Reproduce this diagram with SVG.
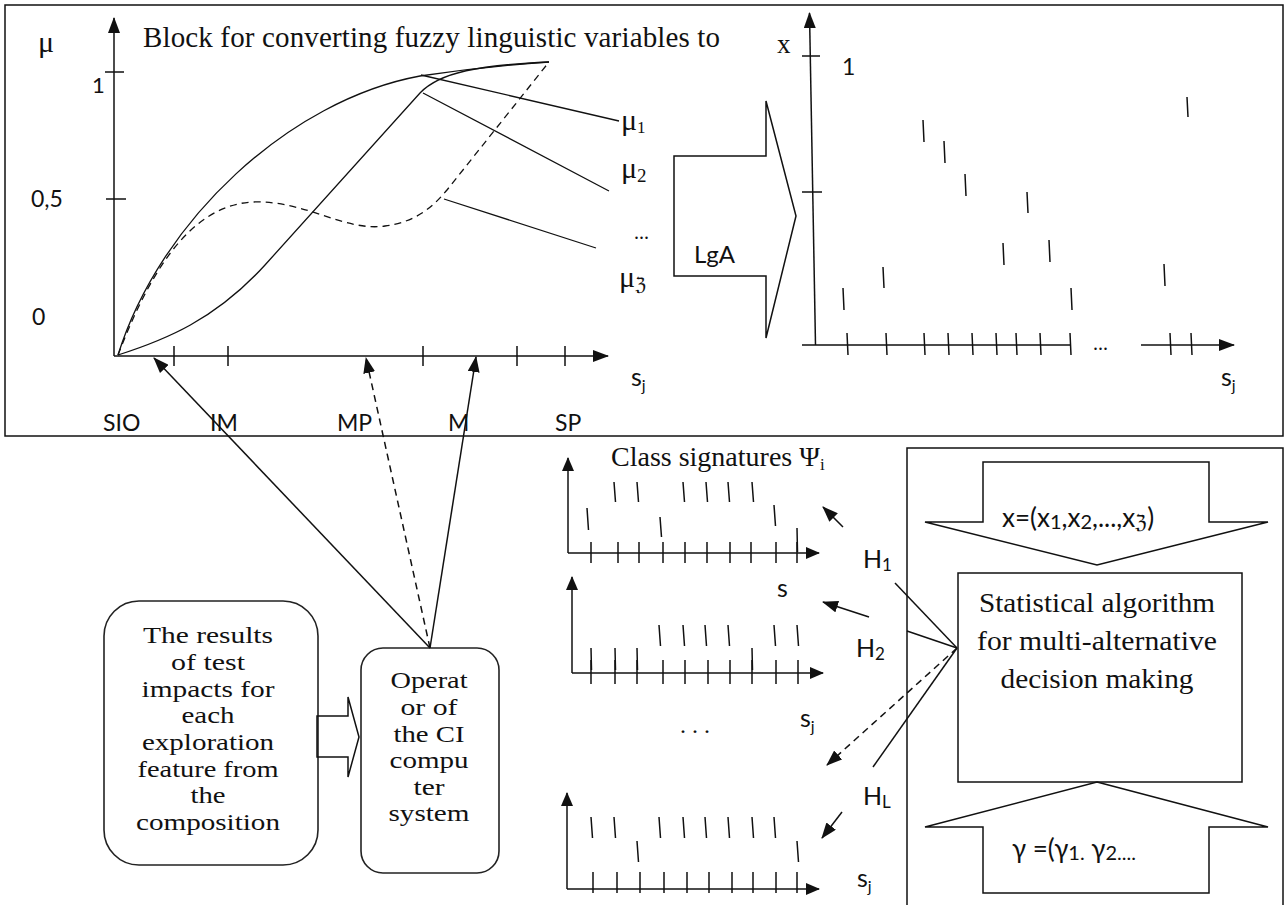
<svg xmlns="http://www.w3.org/2000/svg" width="1287" height="905" viewBox="0 0 1287 905">
<style>
.ln{stroke:#111;stroke-width:1.5;fill:none}
.thin{stroke:#111;stroke-width:1.3;fill:none}
.dash{stroke-dasharray:7 5}
.box{stroke:#222;stroke-width:1.6;fill:#fff}
.serif{font-family:"Liberation Serif","DejaVu Serif",serif;fill:#111}
.sans{font-family:Lato,"Liberation Sans",sans-serif;fill:#111}
.mid{text-anchor:middle}
</style>
<defs>
<marker id="ah" viewBox="0 0 16 12" refX="15" refY="6" markerWidth="16" markerHeight="12" markerUnits="userSpaceOnUse" orient="auto"><path d="M0,0 L16,6 L0,12 z" fill="#111"/></marker>
<marker id="ahs" viewBox="0 0 14 12" refX="13" refY="6" markerWidth="14" markerHeight="12" markerUnits="userSpaceOnUse" orient="auto"><path d="M0,0 L14,6 L0,12 z" fill="#111"/></marker>
</defs>
<rect width="1287" height="905" fill="#fff"/>

<g id="top-block">
<rect x="5" y="5" width="1278" height="431" class="ln" stroke-width="1.8"/>
<text x="143" y="47" class="serif" font-size="29" textLength="577" lengthAdjust="spacing">Block for converting fuzzy linguistic variables to</text>
</g>

<g id="membership-chart">
<line x1="114" y1="356" x2="114" y2="18" class="ln" marker-end="url(#ah)"/>
<line x1="114" y1="356" x2="608" y2="356" class="ln" marker-end="url(#ah)"/>
<path class="ln" d="M105,72H124M106,199H126M174,346V366M228,346V366M423,346V366M517,346V366M565,346V366"/>
<path class="thin" d="M118,355 C160,220 290,100 420,76 C480,67 520,64 549,62"/>
<path class="thin" d="M118,355 C165,340 215,320 265,265 L420,93 C440,72 480,65 549,62"/>
<path class="thin dash" d="M118,355 C145,285 185,205 253,202 C305,200 345,232 385,226 C415,222 432,208 447,190 L549,62"/>
<path class="thin" d="M421,75L619,121M423,93L609,191M444,199L596,248"/>
<text x="38" y="52" class="serif" font-size="30">μ</text>
<text x="92" y="93" class="sans" font-size="22">1</text>
<text x="31" y="207" class="sans" font-size="23">0,5</text>
<text x="32" y="325" class="sans" font-size="23">0</text>
<text x="621" y="130" class="serif" font-size="30">μ<tspan font-size="17" dy="3">1</tspan></text>
<text x="621" y="178" class="serif" font-size="30">μ<tspan font-size="19" dy="4">2</tspan></text>
<text x="634" y="239" class="serif" font-size="20">...</text>
<text x="619" y="287" class="serif" font-size="30">μ<tspan font-size="19" dy="4">ℨ</tspan></text>
<text x="631" y="386" class="sans" font-size="25">s<tspan font-size="16" dy="5">j</tspan></text>
<text x="103" y="431" class="sans" font-size="23">SIO</text>
<text x="210" y="431" class="sans" font-size="23">IM</text>
<text x="337" y="431" class="sans" font-size="23">MP</text>
<text x="448" y="431" class="sans" font-size="23">M</text>
<text x="555" y="431" class="sans" font-size="23">SP</text>
</g>

<g id="lga-arrow">
<polygon points="674,156 766,156 766,101 796,216 766,338 766,276 674,276" class="ln" fill="#fff"/>
<text x="694" y="263" class="sans" font-size="24">LgA</text>
</g>

<g id="value-chart">
<line x1="815.5" y1="345" x2="809.5" y2="13" class="ln" marker-end="url(#ah)"/>
<path class="ln" d="M802,56H820M802,192H822M802,345H1071"/>
<line x1="1141" y1="345" x2="1234" y2="345" class="ln" marker-end="url(#ah)"/>
<path class="ln" d="M847,333l1,22M886,333l1,22M924,333l1,22M948,333l1,22M972,333l1,22M996,333l1,22M1016,333l1,22M1040,333l1,22M1070,333l1,22M1170,333l1,22M1191,333l1,22"/>
<path class="ln" d="M843,288l1,22M883,267l1,21M923,120l1,22M944,141l1,22M965,174l1,22M1003,243l1,22M1027,192l1,21M1049,240l1,22M1071,288l1,22M1164,264l1,22M1187,97l1,20"/>
<text x="777" y="53" class="serif" font-size="27">x</text>
<text x="842" y="75" class="sans" font-size="23">1</text>
<text x="1093" y="350" class="serif" font-size="20">...</text>
<text x="1221" y="386" class="sans" font-size="25">s<tspan font-size="16" dy="5">j</tspan></text>
</g>

<g id="results-box">
<rect x="104" y="601" width="214" height="264" rx="35" class="box"/>
<g class="serif mid" font-size="24">
<text x="208" y="643" textLength="130" lengthAdjust="spacingAndGlyphs">The results</text>
<text x="208" y="670" textLength="74" lengthAdjust="spacingAndGlyphs">of test</text>
<text x="208" y="697" textLength="133" lengthAdjust="spacingAndGlyphs">impacts for</text>
<text x="208" y="723" textLength="53" lengthAdjust="spacingAndGlyphs">each</text>
<text x="208" y="750" textLength="132" lengthAdjust="spacingAndGlyphs">exploration</text>
<text x="208" y="777" textLength="141" lengthAdjust="spacingAndGlyphs">feature from</text>
<text x="208" y="803" textLength="35" lengthAdjust="spacingAndGlyphs">the</text>
<text x="208" y="830" textLength="144" lengthAdjust="spacingAndGlyphs">composition</text>
</g>
</g>

<g id="operator-box">
<rect x="361" y="648" width="138" height="225" rx="22" class="box"/>
<g class="serif mid" font-size="24">
<text x="429" y="688" textLength="77" lengthAdjust="spacingAndGlyphs">Operat</text>
<text x="429" y="715" textLength="57" lengthAdjust="spacingAndGlyphs">or of</text>
<text x="429" y="742" textLength="71" lengthAdjust="spacingAndGlyphs">the CI</text>
<text x="429" y="768" textLength="79" lengthAdjust="spacingAndGlyphs">compu</text>
<text x="429" y="795" textLength="31" lengthAdjust="spacingAndGlyphs">ter</text>
<text x="429" y="821" textLength="81" lengthAdjust="spacingAndGlyphs">system</text>
</g>
</g>

<g id="class-signatures">
<text x="611" y="466" class="serif" font-size="28">Class signatures Ψ<tspan font-size="17" dy="4">i</tspan></text>
<line x1="568" y1="553" x2="568" y2="458" class="ln" marker-end="url(#ahs)"/>
<line x1="568" y1="553" x2="819" y2="553" class="ln" marker-end="url(#ahs)"/>
<path class="ln" d="M591,542v21M618,542v21M639,542v21M663,542v21M685,542v21M707,542v21M730,542v21M751,542v21M776,542v21M797,542v21"/>
<path class="ln" d="M614,482l1.5,20M637,482l1.5,20M683,482l1.5,20M706,482l1.5,20M728,482l1.5,20M752,482l1.5,20M587,508l1.5,22M660,517l1.5,20M774,505l1.5,21M797,528l0.5,24"/>
<line x1="572" y1="673" x2="572" y2="577" class="ln" marker-end="url(#ahs)"/>
<line x1="572" y1="673" x2="823" y2="673" class="ln" marker-end="url(#ahs)"/>
<path class="ln" d="M591,660v24M615,660v24M637,660v24M663,660v24M685,660v24M708,660v24M730,660v24M752,660v24M776,660v24M798,660v24"/>
<path class="ln" d="M659,625l1.5,21M683,625l1.5,21M705,625l1.5,21M728,625l1.5,21M774,625l1.5,21M797,625l1.5,21M591,648l0.5,22M615,648l0.5,22M637,648l0.5,22M752,648l0.5,22"/>
<line x1="567" y1="889" x2="567" y2="793" class="ln" marker-end="url(#ahs)"/>
<line x1="567" y1="889" x2="819" y2="889" class="ln" marker-end="url(#ahs)"/>
<path class="ln" d="M593,872v21M617,872v21M640,872v21M664,872v21M687,872v21M709,872v21M732,872v21M753,872v21M776,872v21M797,872v21"/>
<path class="ln" d="M591,817l1.5,21M614,817l1.5,21M659,817l1.5,21M683,817l1.5,21M705,817l1.5,21M728,817l1.5,21M752,817l1.5,21M774,817l1.5,21M637,841l1.5,21M797,841l1.5,21"/>
<text x="777" y="597" class="sans" font-size="25">s</text>
<text x="800" y="727" class="sans" font-size="25">s<tspan font-size="16" dy="5">j</tspan></text>
<text x="680" y="733" class="serif" font-size="24">. . .</text>
<text x="857" y="887" class="sans" font-size="25">s<tspan font-size="16" dy="5">j</tspan></text>
<text x="863" y="568" class="sans" font-size="25">H<tspan font-size="17" dy="3">1</tspan></text>
<text x="856" y="657" class="sans" font-size="25">H<tspan font-size="17" dy="3">2</tspan></text>
<text x="863" y="805" class="sans" font-size="25">H<tspan font-size="17" dy="3">L</tspan></text>
</g>

<g id="decision-block">
<rect x="907" y="448" width="376" height="470" class="ln" stroke-width="1.6"/>
<polygon points="983,462 1209,462 1209,522 1268,522 1097,565 925,522 983,522" class="ln" fill="#fff"/>
<text x="1002" y="527" class="sans" font-size="26">x=(x<tspan font-size="20" dy="2">1</tspan><tspan dy="-2">,x</tspan><tspan font-size="20" dy="2">2</tspan><tspan dy="-2">,...,x</tspan><tspan font-size="20" dy="2">ℨ</tspan><tspan dy="-2">)</tspan></text>
<rect x="958" y="573" width="284" height="209" class="ln" stroke-width="1.6"/>
<g class="serif mid" font-size="28">
<text x="1097" y="612" textLength="236" lengthAdjust="spacingAndGlyphs">Statistical algorithm</text>
<text x="1097" y="650" textLength="240" lengthAdjust="spacingAndGlyphs">for multi-alternative</text>
<text x="1097" y="688" textLength="193" lengthAdjust="spacingAndGlyphs">decision making</text>
</g>
<polygon points="1097,782 1268,827 1209,827 1209,893 983,893 983,827 925,827" class="ln" fill="#fff"/>
<text x="1012" y="858" class="sans" font-size="26">γ =(γ<tspan font-size="20" dy="2">1.</tspan><tspan dy="-2">  γ</tspan><tspan font-size="20" dy="2">2....</tspan></text>
</g>

<g id="connectors">
<line x1="430" y1="648" x2="154" y2="358" class="ln" marker-end="url(#ah)"/>
<line x1="430" y1="648" x2="366" y2="358" class="ln dash" marker-end="url(#ah)"/>
<line x1="430" y1="648" x2="476" y2="357" class="ln" marker-end="url(#ah)"/>
<polygon points="317,716 348,716 348,697 359,737 348,777 348,757 317,757" class="ln" fill="#fff"/>
<line x1="957" y1="648" x2="895" y2="583" class="ln"/>
<line x1="957" y1="648" x2="907" y2="631" class="ln"/>
<line x1="957" y1="648" x2="827" y2="765" class="ln dash" marker-end="url(#ah)"/>
<line x1="957" y1="648" x2="873" y2="767" class="ln"/>
<line x1="843" y1="527" x2="823" y2="507" class="ln" marker-end="url(#ah)"/>
<line x1="869" y1="617" x2="823" y2="602" class="ln" marker-end="url(#ah)"/>
<line x1="842" y1="812" x2="822" y2="838" class="ln" marker-end="url(#ah)"/>
</g>
</svg>
